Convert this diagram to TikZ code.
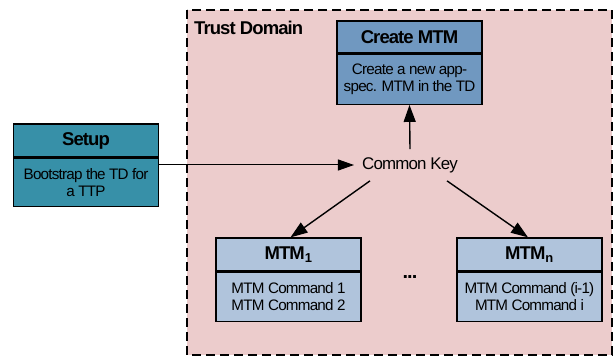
\documentclass[tikz,border=0pt]{standalone}
\usepackage{fontspec}
\setmainfont[LetterSpace=-5]{Liberation Sans}
\usetikzlibrary{positioning}
\usetikzlibrary{arrows.meta}

\definecolor{setupcol}{RGB}{55,144,168}
\definecolor{createcol}{RGB}{112,152,192}
\definecolor{mtmcol}{RGB}{176,196,220}
\definecolor{domaincol}{RGB}{236,204,204}

\tikzset{
  head/.style={draw, line width=1.3pt, minimum width=145pt, minimum height=33pt, inner sep=0pt,
    font=\bfseries\fontsize{18.5}{21}\selectfont},
  body/.style={draw, line width=1.3pt, minimum width=145pt, minimum height=49pt, inner sep=0pt,
    align=center, font=\fontsize{15.2}{17}\selectfont},
  link/.style={line width=1.4pt, -{Triangle[length=17pt,width=12pt]}}
}

\begin{document}
\begin{tikzpicture}[x=1pt,y=-1pt]
    \useasboundingbox (0,0) rectangle (615,358);

    % trust domain
    \draw [fill=domaincol, line width=2.6pt, dash pattern=on 9pt off 5pt] (187,10) rectangle (612,355);
    \node [anchor=base west, font=\bfseries\fontsize{18.5}{21}\selectfont, inner sep=0pt] (tdlabel) at (194,35) {Trust Domain};

    % setup
    \node [head, fill=setupcol] (setup) at (86,140.5) {Setup};
    \node [body, fill=setupcol, minimum height=48pt, below=0pt of setup] (setupbody) {Bootstrap the TD for\\a TTP};

    % create MTM
    \node [head, fill=createcol, minimum height=32pt] (create) at (409.5,37) {Create MTM};
    \node [body, fill=createcol, minimum height=50pt, below=0pt of create] (createbody) {Create a new app-\\spec. MTM in the TD};

    \node [inner sep=8pt, font=\fontsize{16.9}{19}\selectfont] (key) at (410,165) {Common Key};

    % MTMs
    \node [head, fill=mtmcol] (mtm1) at (288.5,254.5) {MTM$_\mathbf{1}$};
    \node [body, fill=mtmcol, below=0pt of mtm1] (mtm1body) {MTM Command 1\\MTM Command 2};

    \node [head, fill=mtmcol] (mtmn) at (529.5,254.5) {MTM$_\mathbf{n}$};
    \node [body, fill=mtmcol, below=0pt of mtmn] (mtmnbody) {MTM Command (i-1)\\MTM Command i};

    \node [font=\bfseries\fontsize{20}{22}\selectfont] (dots) at (410,277) {...};

    \draw [line width=1pt, -{Triangle[length=16pt,width=11pt]}] (setupbody.east |- key.west) -- (key.west);
    \draw [link] (key.north) -- (createbody.south);
    \draw [link] ([xshift=-40pt]key.south) -- ([xshift=2pt]mtm1.north);
    \draw [link] ([xshift=37pt]key.south) -- ([xshift=-1.5pt]mtmn.north);
\end{tikzpicture}
\end{document}
